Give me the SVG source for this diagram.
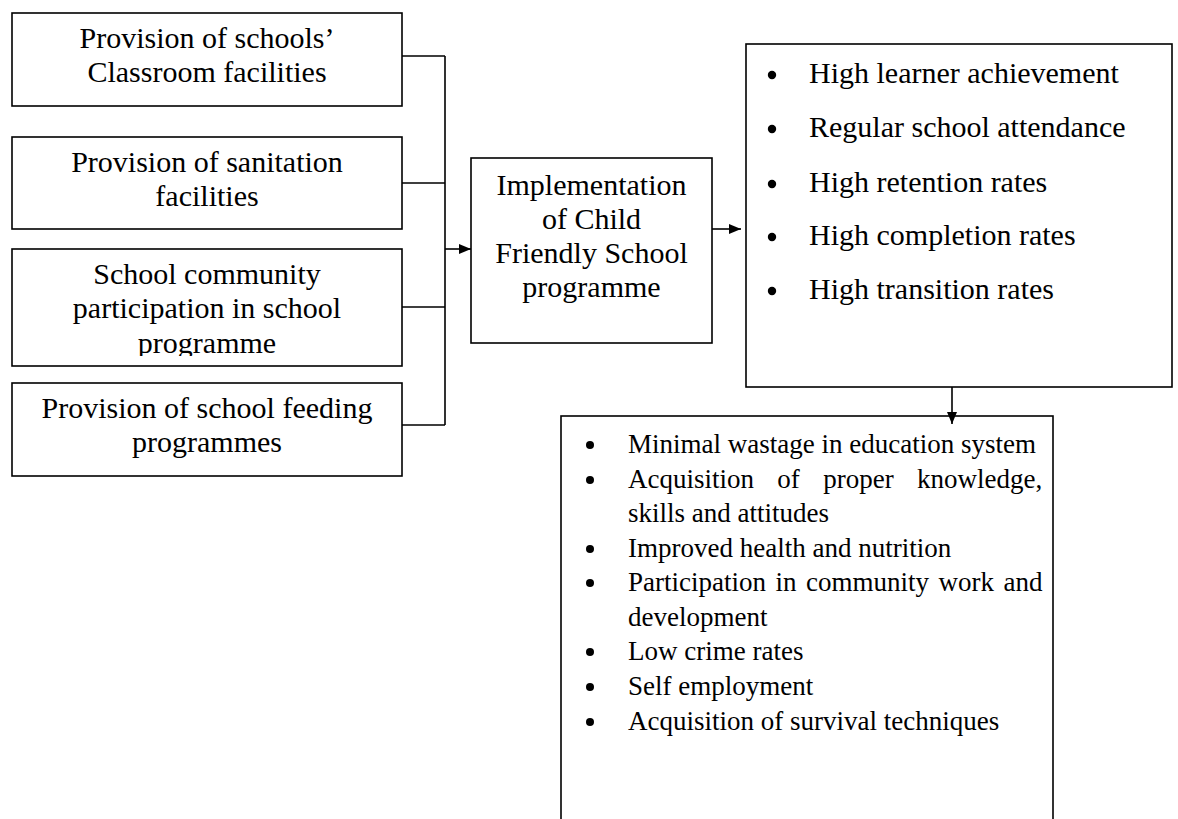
<svg xmlns="http://www.w3.org/2000/svg" width="1178" height="819" viewBox="0 0 1178 819">
  <style>
    .box { fill: #ffffff; stroke: #000000; stroke-width: 1.6; }
    .line { fill: none; stroke: #000000; stroke-width: 1.6; }
    .t30 { font-family: "Liberation Serif", "Times New Roman", serif; font-size: 30px; fill: #000000; }
    .t27 { font-family: "Liberation Serif", "Times New Roman", serif; font-size: 27px; fill: #000000; }
    .mid { text-anchor: middle; }
    .dot { fill: #000000; }
  </style>
  <defs>
    <marker id="arrow" viewBox="0 0 12 10" refX="12" refY="5" markerWidth="12" markerHeight="10" markerUnits="userSpaceOnUse" orient="auto">
      <path d="M0,0 L12,5 L0,10 Z" fill="#000000"/>
    </marker>
    <clipPath id="clip-community">
      <rect x="12" y="249" width="390" height="107"/>
    </clipPath>
  </defs>

  <rect width="1178" height="819" fill="#ffffff"/>

  <!-- input boxes -->
  <g id="classroom-facilities">
    <rect class="box" x="12" y="13" width="390" height="93"/>
    <text class="t30 mid" x="207" y="48">Provision of schools’</text>
    <text class="t30 mid" x="207" y="82">Classroom facilities</text>
  </g>

  <g id="sanitation-facilities">
    <rect class="box" x="12" y="137" width="390" height="92"/>
    <text class="t30 mid" x="207" y="172">Provision of sanitation</text>
    <text class="t30 mid" x="207" y="206">facilities</text>
  </g>

  <g id="community-participation">
    <rect class="box" x="12" y="249" width="390" height="117"/>
    <g clip-path="url(#clip-community)">
      <text class="t30 mid" x="207" y="284">School community</text>
      <text class="t30 mid" x="207" y="318">participation in school</text>
      <text class="t30 mid" x="207" y="353">programme</text>
    </g>
  </g>

  <g id="feeding-programmes">
    <rect class="box" x="12" y="383" width="390" height="93"/>
    <text class="t30 mid" x="207" y="418">Provision of school feeding</text>
    <text class="t30 mid" x="207" y="452">programmes</text>
  </g>

  <!-- central programme box -->
  <g id="cfs-programme">
    <rect class="box" x="471" y="158" width="241" height="185"/>
    <text class="t30 mid" x="591.5" y="195">Implementation</text>
    <text class="t30 mid" x="591.5" y="229">of Child</text>
    <text class="t30 mid" x="591.5" y="263">Friendly School</text>
    <text class="t30 mid" x="591.5" y="297">programme</text>
  </g>

  <!-- immediate outcomes -->
  <g id="school-outcomes">
    <rect class="box" x="746" y="44" width="426" height="343"/>
    <circle class="dot" cx="772" cy="75" r="4.2"/>
    <text class="t30" x="809" y="83">High learner achievement</text>
    <circle class="dot" cx="772" cy="129" r="4.2"/>
    <text class="t30" x="809" y="137">Regular school attendance</text>
    <circle class="dot" cx="772" cy="184" r="4.2"/>
    <text class="t30" x="809" y="192">High retention rates</text>
    <circle class="dot" cx="772" cy="237" r="4.2"/>
    <text class="t30" x="809" y="245">High completion rates</text>
    <circle class="dot" cx="772" cy="291" r="4.2"/>
    <text class="t30" x="809" y="299">High transition rates</text>
  </g>

  <!-- long-term outcomes (box runs past the lower edge) -->
  <g id="long-term-outcomes">
    <rect class="box" x="561" y="416" width="492" height="430"/>
    <circle class="dot" cx="590" cy="445" r="4"/>
    <text class="t27" x="628" y="453">Minimal wastage in education system</text>
    <circle class="dot" cx="590" cy="480" r="4"/>
    <text class="t27" x="628" y="488" word-spacing="16.6">Acquisition of proper knowledge,</text>
    <text class="t27" x="628" y="522">skills and attitudes</text>
    <circle class="dot" cx="590" cy="549" r="4"/>
    <text class="t27" x="628" y="557">Improved health and nutrition</text>
    <circle class="dot" cx="590" cy="583" r="4"/>
    <text class="t27" x="628" y="591" word-spacing="2.75">Participation in community work and</text>
    <text class="t27" x="628" y="626">development</text>
    <circle class="dot" cx="590" cy="652" r="4"/>
    <text class="t27" x="628" y="660">Low crime rates</text>
    <circle class="dot" cx="590" cy="687" r="4"/>
    <text class="t27" x="628" y="695">Self employment</text>
    <circle class="dot" cx="590" cy="722" r="4"/>
    <text class="t27" x="628" y="730">Acquisition of survival techniques</text>
  </g>

  <!-- connectors -->
  <g id="connectors">
    <path class="line" d="M402,56 H445 M402,183 H445 M402,307 H445 M402,425 H445 M445,56 V425"/>
    <line class="line" x1="445" y1="249" x2="471" y2="249" marker-end="url(#arrow)"/>
    <line class="line" x1="712" y1="229" x2="741" y2="229" marker-end="url(#arrow)"/>
    <line class="line" x1="952" y1="387" x2="952" y2="424" marker-end="url(#arrow)"/>
  </g>
</svg>
